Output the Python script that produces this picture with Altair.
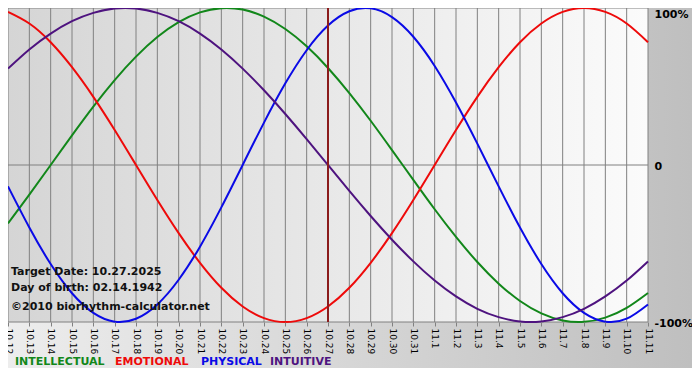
import altair as alt
import pandas as pd

dates = ["10.12", "10.13", "10.14", "10.15", "10.16", "10.17", "10.18", "10.19", "10.20",
         "10.21", "10.22", "10.23", "10.24", "10.25", "10.26", "10.27", "10.28", "10.29",
         "10.30", "10.31", "11.1", "11.2", "11.3", "11.4", "11.5", "11.6", "11.7", "11.8",
         "11.9", "11.10", "11.11"]

intellectual = [-0.372, -0.189, 0.000, 0.189, 0.372, 0.541, 0.690, 0.815, 0.910, 0.972,
                0.999, 0.990, 0.945, 0.866, 0.756, 0.618, 0.458, 0.282, 0.095, -0.095,
                -0.282, -0.458, -0.618, -0.756, -0.866, -0.945, -0.990, -0.999, -0.972,
                -0.910, -0.815]
emotional = [0.975, 0.901, 0.782, 0.623, 0.434, 0.223, 0.000, -0.223, -0.434, -0.623,
             -0.782, -0.901, -0.975, -1.000, -0.975, -0.901, -0.782, -0.623, -0.434,
             -0.223, 0.000, 0.223, 0.434, 0.623, 0.782, 0.901, 0.975, 1.000, 0.975, 0.901,
             0.782]
physical = [-0.136, -0.398, -0.631, -0.817, -0.942, -0.998, -0.979, -0.888, -0.731,
            -0.520, -0.270, 0.000, 0.270, 0.520, 0.731, 0.888, 0.979, 0.998, 0.942, 0.817,
            0.631, 0.398, 0.136, -0.136, -0.398, -0.631, -0.817, -0.942, -0.998, -0.979,
            -0.888]
intuitive = [0.614, 0.736, 0.837, 0.916, 0.969, 0.997, 0.997, 0.969, 0.916, 0.837, 0.736,
             0.614, 0.476, 0.325, 0.165, 0.000, -0.165, -0.325, -0.476, -0.614, -0.736,
             -0.837, -0.916, -0.969, -0.997, -0.997, -0.969, -0.916, -0.837, -0.736,
             -0.614]

series_names = ["INTELLECTUAL", "EMOTIONAL", "PHYSICAL", "INTUITIVE"]
series_colors = ["#12871a", "#ee0a0a", "#0a0ae6", "#4e137f"]
target_date = "10.27"
info_lines = ["Target Date: 10.27.2025", "Day of birth: 02.14.1942", "\u00a92010 biorhythm-calculator.net"]
y_ticks = [-1, 0, 1]
y_tick_labels = ["-100%", "0", "100%"]

W, H = 640, 314
PAD_R, PAD_B = 44, 48
FONT = "DejaVu Sans"

rows = []
for name, vals in zip(series_names, [intellectual, emotional, physical, intuitive]):
    for i, (d, v) in enumerate(zip(dates, vals)):
        rows.append({"date": d, "idx": i, "series": name, "value": v})
df = pd.DataFrame(rows)

label_expr = " : ".join(
    f"datum.value == {v} ? '{t}'" for v, t in zip(y_ticks[:-1], y_tick_labels[:-1])
) + f" : '{y_tick_labels[-1]}'"

x_axis = alt.Axis(title=None, labelAngle=90, labelAlign="left", labelBaseline="middle",
                  labelFont=FONT, labelFontSize=9, labelColor="#000000", labelOverlap=False,
                  tickSize=4, tickColor="#808080", domain=False, grid=False, labelPadding=2,
                  zindex=2)
y_axis = alt.Axis(title=None, orient="right", values=y_ticks, labelExpr=label_expr,
                  labelFont=FONT, labelFontSize=11, labelFontWeight="bold",
                  labelColor="#000000", ticks=False, domain=False, grid=False,
                  labelPadding=6, labelFlush=False, zindex=2,
                  labelOffset={"condition": {"test": "datum.value == 1", "value": 6}, "value": 1})

x_scale = alt.Scale(type="point", padding=0, domain=dates)
y_scale = alt.Scale(domain=[-1, 1], nice=False, zero=False)

X = alt.X("date:O", scale=x_scale, axis=x_axis)

one = pd.DataFrame({"a": [1]})

outer_grad = alt.Gradient(gradient="linear",
                          stops=[alt.GradientStop(color="#ededed", offset=0),
                                 alt.GradientStop(color="#bfbfbf", offset=1)],
                          x1=0, x2=1, y1=0, y2=0)
plot_grad = alt.Gradient(gradient="linear",
                         stops=[alt.GradientStop(color="#d5d5d5", offset=0),
                                alt.GradientStop(color="#fbfbfb", offset=1)],
                         x1=0, x2=1, y1=0, y2=0)

outer_bg = alt.Chart(one).mark_rect(fill=outer_grad, strokeWidth=0).encode(
    x=alt.value(0), x2=alt.value(W + PAD_R), y=alt.value(0), y2=alt.value(H + PAD_B - 2))
plot_bg = alt.Chart(one).mark_rect(fill=plot_grad, strokeWidth=0).encode(
    x=alt.value(0), x2=alt.value(W), y=alt.value(0), y2=alt.value(H))

vgrid = alt.Chart(pd.DataFrame({"date": dates})).mark_rule(
    color="#808080", strokeWidth=1).encode(x=X)
hgrid = alt.Chart(pd.DataFrame({"value": y_ticks})).mark_rule(
    color="#808080", strokeWidth=1).encode(y=alt.Y("value:Q", scale=y_scale, axis=y_axis))

lines = alt.Chart(df).mark_line(strokeWidth=2, interpolate="natural").encode(
    x=X,
    y=alt.Y("value:Q", scale=y_scale, axis=y_axis),
    color=alt.Color("series:N", scale=alt.Scale(domain=series_names, range=series_colors),
                    legend=None),
    order=alt.Order("idx:Q"),
)

today = alt.Chart(pd.DataFrame({"date": [target_date]})).mark_rule(
    color="#8b1c1c", strokeWidth=2).encode(x=X)

layers = [outer_bg, plot_bg, vgrid, hgrid, lines, today]

info_y = [H - 50, H - 34, H - 15]
for txt, yy in zip(info_lines, info_y):
    layers.append(
        alt.Chart(one).mark_text(align="left", baseline="middle", font=FONT, fontSize=11,
                                 fontWeight="bold", color="#111111").encode(
            x=alt.value(3), y=alt.value(yy), text=alt.value(txt)))

legend_x = [7, 107, 193, 262]
for name, col, xx in zip(series_names, series_colors, legend_x):
    layers.append(
        alt.Chart(one).mark_text(align="left", baseline="middle", font=FONT, fontSize=11,
                                 fontWeight="bold", color=col).encode(
            x=alt.value(xx), y=alt.value(H + 40), text=alt.value(name)))

chart = alt.layer(*layers).properties(
    width=W, height=H,
    autosize=alt.AutoSizeParams(type="none"),
    padding={"left": 0, "top": 0, "right": PAD_R, "bottom": PAD_B},
    background="white",
).configure_view(stroke=None)

chart.save("out.html", embed_options={"renderer": "svg", "actions": False})
